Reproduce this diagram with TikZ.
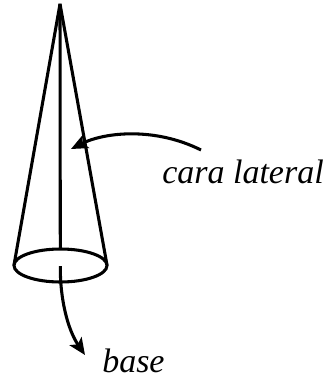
\documentclass[tikz,border=0pt]{standalone}
\usepackage{fontspec}
\setmainfont{Liberation Serif}
\usetikzlibrary{arrows.meta}
\tikzset{
  wire/.style      = {line width=2.3pt},
  callout/.style   = {-{Stealth[length=4.4mm,width=3.8mm,inset=1mm]}, line width=2.3pt},
  annot/.style     = {font=\itshape\fontsize{25.5}{25.5}\selectfont, inner sep=0pt, anchor=base west},
}
\begin{document}
\begin{tikzpicture}[x=0.75pt,y=-0.75pt]
  \useasboundingbox (0,0) rectangle (328,381);
  % ---------------- cone ----------------------------------
  \coordinate (apex) at (60,4);
  \coordinate (baseL) at (14,265);
  \coordinate (baseR) at (107,265);
  \coordinate (baseT) at (60.3,249);
  \draw[wire,line join=bevel] (baseL) -- (apex) -- (baseR);
  \draw[wire] (apex) -- (baseT);
  \draw[wire] (60.5,265.5) ellipse [x radius=46.5,y radius=16.5];

  % ---------------- labels --------------------------------
  \node[annot] (lateral) at (162,183) {cara lateral};
  \node[annot] (base) at (102,372) {base};

  % ---------------- arrows --------------------------------
  \coordinate (lateralstart) at (201,150);
  \coordinate (lateralend) at (71,149);
  \coordinate (basestart) at (60.3,266);
  \coordinate (baseend) at (85,355);
  \draw[callout] (lateralstart) .. controls (155,127) and (105,132) .. (lateralend);
  \draw[callout] (basestart) .. controls (60,300) and (68,330) .. (baseend);
\end{tikzpicture}
\end{document}
